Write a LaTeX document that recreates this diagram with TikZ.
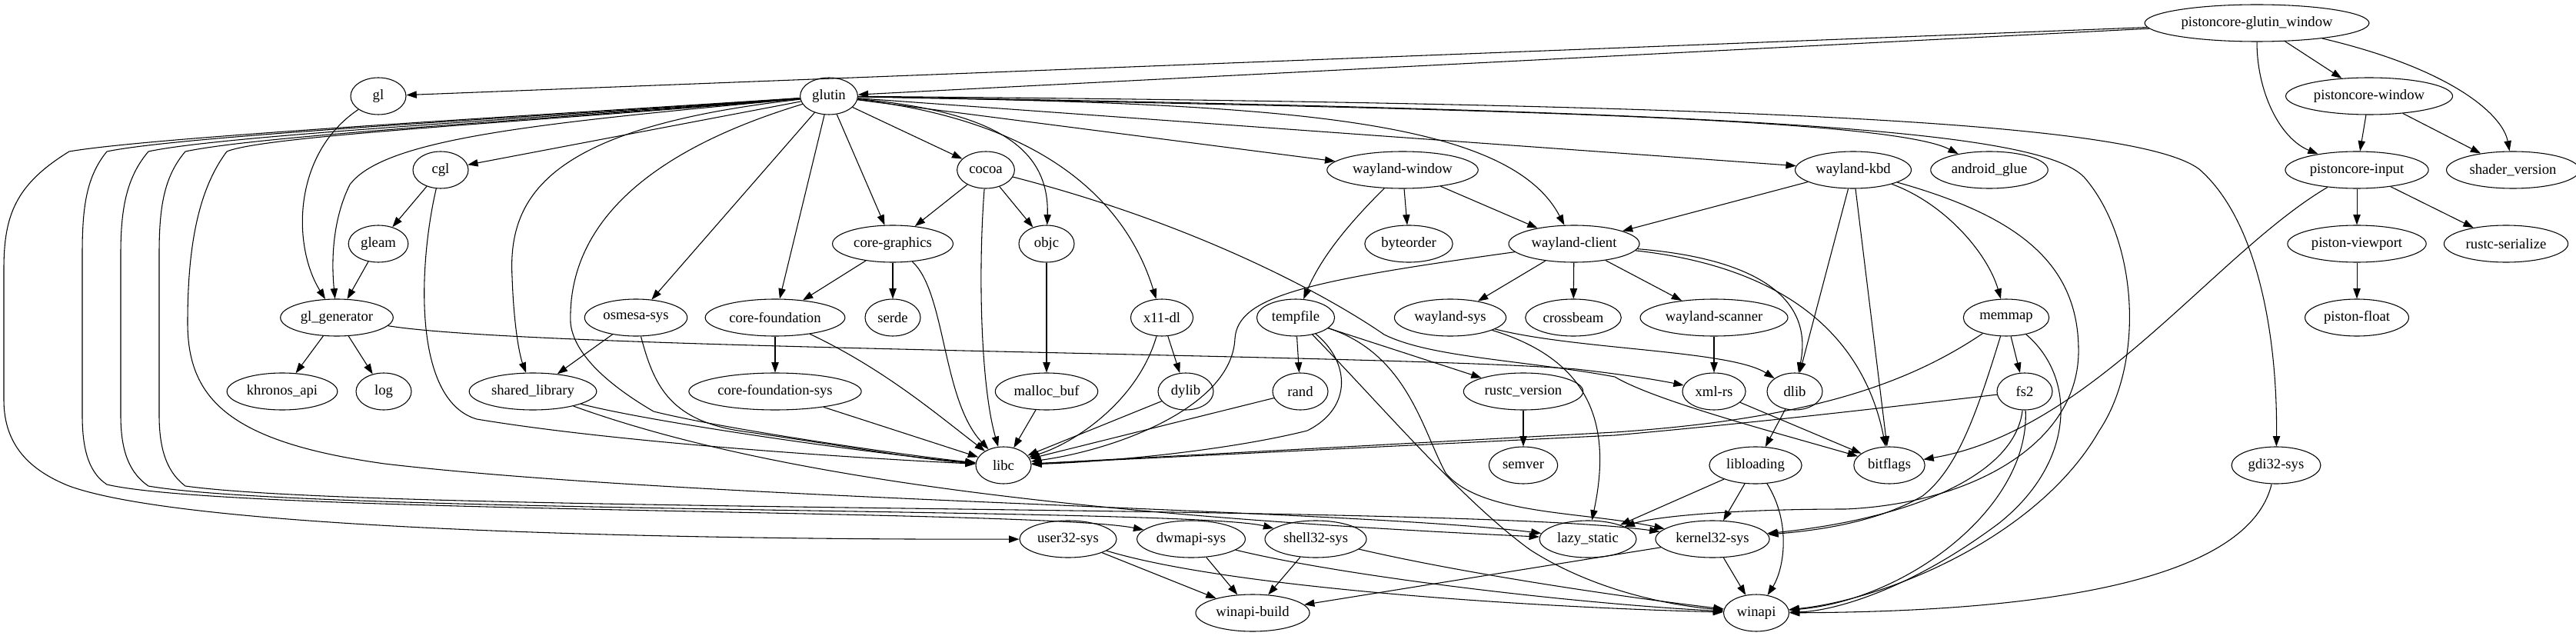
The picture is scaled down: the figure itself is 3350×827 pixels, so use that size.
\documentclass[tikz,border=0pt]{standalone}
\usepackage{fontspec}
\setmainfont{Liberation Serif}
\usepackage{tikz}
\usetikzlibrary{arrows.meta, shapes.geometric}

\begin{document}
\begin{tikzpicture}[
    x=0.75pt, y=-0.75pt,
    crate/.style={
        ellipse,
        draw,
        line width=0.8pt,
        minimum width=54pt,
        minimum height=36pt,
        inner xsep=3.5pt,
        inner ysep=0pt,
        font=\fontsize{14}{16}\selectfont
    },
    dep/.style={-{Triangle[length=10pt,width=7pt]}, line width=0.8pt}
]
\useasboundingbox (0,0) rectangle (3350,827);

\node[crate] (pgw) at (2935,30) {pistoncore-glutin\_window};
\node[crate] (gl) at (492,125) {gl};
\node[crate] (glutin) at (1078,125) {glutin};
\node[crate] (pcwindow) at (3081,125) {pistoncore-window};
\node[crate] (cgl) at (573,221) {cgl};
\node[crate] (cocoa) at (1282,221) {cocoa};
\node[crate] (wwindow) at (1824,221) {wayland-window};
\node[crate] (wkbd) at (2410,221) {wayland-kbd};
\node[crate] (androidglue) at (2587,221) {android\_glue};
\node[crate] (pcinput) at (3065,221) {pistoncore-input};
\node[crate] (shaderversion) at (3268,221) {shader\_version};
\node[crate] (gleam) at (492,317) {gleam};
\node[crate] (cgraphics) at (1161,317) {core-graphics};
\node[crate] (objc) at (1361,317) {objc};
\node[crate] (byteorder) at (1832,317) {byteorder};
\node[crate] (wclient) at (2047,317) {wayland-client};
\node[crate] (viewport) at (3065,317) {piston-viewport};
\node[crate] (rserialize) at (3259,317) {rustc-serialize};
\node[crate] (glgen) at (438,413) {gl\_generator};
\node[crate] (osmesa) at (827,413) {osmesa-sys};
\node[crate] (cfound) at (1008,413) {core-foundation};
\node[crate] (serde) at (1161,413) {serde};
\node[crate] (x11dl) at (1511,413) {x11-dl};
\node[crate] (tempfile) at (1685,413) {tempfile};
\node[crate] (wsys) at (1886,413) {wayland-sys};
\node[crate] (crossbeam) at (2046,413) {crossbeam};
\node[crate] (wscanner) at (2229,413) {wayland-scanner};
\node[crate] (memmap) at (2609,413) {memmap};
\node[crate] (pfloat) at (3065,413) {piston-float};
\node[crate] (khronos) at (367,509) {khronos\_api};
\node[crate] (log) at (499,509) {log};
\node[crate] (shlib) at (693,509) {shared\_library};
\node[crate] (cfsys) at (1008,509) {core-foundation-sys};
\node[crate] (mallocbuf) at (1361,509) {malloc\_buf};
\node[crate] (dylib) at (1542,509) {dylib};
\node[crate] (rand) at (1691,509) {rand};
\node[crate] (rversion) at (1981,509) {rustc\_version};
\node[crate] (xmlrs) at (2229,509) {xml-rs};
\node[crate] (dlib) at (2334,509) {dlib};
\node[crate] (fstwo) at (2633,509) {fs2};
\node[crate] (libc) at (1305,605) {libc};
\node[crate] (semver) at (1981,605) {semver};
\node[crate] (libloading) at (2283,605) {libloading};
\node[crate] (bitflags) at (2457,605) {bitflags};
\node[crate] (gdi) at (2960,605) {gdi32-sys};
\node[crate] (user) at (1389,701) {user32-sys};
\node[crate] (dwmapi) at (1549,701) {dwmapi-sys};
\node[crate] (shell) at (1711,701) {shell32-sys};
\node[crate] (lazystatic) at (2065,701) {lazy\_static};
\node[crate] (kernel) at (2227,701) {kernel32-sys};
\node[crate] (wbuild) at (1629,797) {winapi-build};
\node[crate] (winapi) at (2284,797) {winapi};

\draw[dep] (pgw) -- (gl);
\draw[dep] (pgw) -- (glutin);
\draw[dep] (pgw) -- (pcwindow);
\draw[dep] (pgw) .. controls (2935,120) and (2965,180) .. (pcinput);
\draw[dep] (pgw) .. controls (3190,90) and (3255,150) .. (shaderversion);
\draw[dep] (pcwindow) -- (pcinput);
\draw[dep] (pcwindow) -- (shaderversion);
\draw[dep] (pcinput) -- (viewport);
\draw[dep] (pcinput) -- (rserialize);
\draw[dep] (pcinput) .. controls (2880,330) and (2720,560) .. (bitflags);
\draw[dep] (viewport) -- (pfloat);

\draw[dep] (gl) .. controls (380,200) and (380,320) .. (glgen);
\draw[dep] (glutin) .. controls (700,160) and (500,180) .. (455,240) .. controls (435,280) and (430,330) .. (glgen);
\draw[dep] (glutin) -- (cgl);
\draw[dep] (cgl) -- (gleam);
\draw[dep] (gleam) -- (glgen);
\draw[dep] (cgl) .. controls (545,340) and (535,520) .. (620,545) .. controls (800,575) and (1100,595) .. (libc);
\draw[dep] (glgen) -- (khronos);
\draw[dep] (glgen) -- (log);
\draw[dep] (glgen) .. controls (700,455) and (1800,460) .. (2050,480) .. controls (2120,488) and (2160,495) .. (xmlrs);

\draw[dep] (glutin) .. controls (700,150) and (200,178) .. (90,197) .. controls (20,240) and (5,280) .. (5,350) -- (5,520) .. controls (5,580) and (40,612) .. (90,632) .. controls (250,690) and (900,702) .. (user);
\draw[dep] (glutin) .. controls (700,152) and (240,176) .. (139,197) .. controls (112,230) and (107,270) .. (107,330) -- (107,540) .. controls (107,590) and (118,616) .. (139,630) .. controls (300,668) and (1350,662) .. (dwmapi);
\draw[dep] (glutin) .. controls (700,154) and (290,176) .. (193,197) .. controls (165,230) and (157,270) .. (157,330) -- (157,540) .. controls (157,590) and (170,616) .. (193,632) .. controls (400,668) and (1550,660) .. (shell);
\draw[dep] (glutin) .. controls (700,156) and (340,176) .. (241,197) .. controls (213,230) and (207,270) .. (207,330) -- (207,540) .. controls (207,590) and (220,616) .. (241,632) .. controls (500,668) and (1900,655) .. (kernel);
\draw[dep] (glutin) .. controls (700,158) and (345,176) .. (295,197) .. controls (255,250) and (244,330) .. (244,420) .. controls (244,520) and (300,575) .. (500,603) .. controls (900,650) and (1750,662) .. (lazystatic);
\draw[dep] (glutin) .. controls (720,165) and (660,250) .. (666,360) .. controls (668,420) and (675,460) .. (shlib);
\draw[dep] (glutin) .. controls (830,200) and (738,300) .. (742,420) .. controls (746,460) and (790,500) .. (850,535) .. controls (950,560) and (1200,595) .. (libc);
\draw[dep] (glutin) -- (osmesa);
\draw[dep] (glutin) -- (cfound);
\draw[dep] (glutin) -- (cgraphics);
\draw[dep] (glutin) -- (cocoa);
\draw[dep] (glutin) .. controls (1290,145) and (1365,190) .. (objc);
\draw[dep] (glutin) .. controls (1380,160) and (1470,280) .. (x11dl);
\draw[dep] (glutin) -- (wwindow);
\draw[dep] (glutin) .. controls (1650,135) and (1960,150) .. (wclient);
\draw[dep] (glutin) -- (wkbd);
\draw[dep] (glutin) .. controls (1800,140) and (2450,150) .. (androidglue);
\draw[dep] (glutin) .. controls (2300,145) and (2650,170) .. (2710,230) .. controls (2780,310) and (2790,470) .. (2730,560) .. controls (2650,700) and (2450,780) .. (winapi);
\draw[dep] (glutin) .. controls (2300,135) and (2780,160) .. (2860,220) .. controls (2940,290) and (2962,450) .. (gdi);

\draw[dep] (osmesa) -- (shlib);
\draw[dep] (osmesa) .. controls (850,500) and (870,545) .. (960,560) .. controls (1100,580) and (1200,598) .. (libc);
\draw[dep] (shlib) .. controls (850,550) and (1150,592) .. (libc);
\draw[dep] (shlib) .. controls (1000,620) and (1400,670) .. (lazystatic);
\draw[dep] (cfound) -- (cfsys);
\draw[dep] (cfound) .. controls (1150,480) and (1220,540) .. (libc);
\draw[dep] (cfsys) -- (libc);
\draw[dep] (cgraphics) -- (cfound);
\draw[dep] (cgraphics) -- (serde);
\draw[dep] (cgraphics) .. controls (1230,380) and (1225,520) .. (libc);
\draw[dep] (cocoa) -- (cgraphics);
\draw[dep] (cocoa) -- (objc);
\draw[dep] (cocoa) .. controls (1272,350) and (1275,500) .. (libc);
\draw[dep] (cocoa) .. controls (1550,290) and (1720,380) .. (1800,435) .. controls (1860,465) and (1980,468) .. (2100,490) .. controls (2150,520) and (2300,560) .. (bitflags);
\draw[dep] (objc) -- (mallocbuf);
\draw[dep] (mallocbuf) -- (libc);
\draw[dep] (x11dl) -- (dylib);
\draw[dep] (x11dl) .. controls (1480,520) and (1400,575) .. (libc);
\draw[dep] (dylib) -- (libc);
\draw[dep] (rand) -- (libc);

\draw[dep] (wwindow) -- (byteorder);
\draw[dep] (wwindow) -- (wclient);
\draw[dep] (wwindow) .. controls (1760,285) and (1720,330) .. (tempfile);
\draw[dep] (wclient) -- (wsys);
\draw[dep] (wclient) -- (crossbeam);
\draw[dep] (wclient) -- (wscanner);
\draw[dep] (wclient) .. controls (2270,335) and (2360,380) .. (dlib);
\draw[dep] (wclient) .. controls (2300,345) and (2420,420) .. (bitflags);
\draw[dep] (wclient) .. controls (1700,365) and (1610,385) .. (1606,440) .. controls (1602,530) and (1450,585) .. (libc);
\draw[dep] (wkbd) -- (wclient);
\draw[dep] (wkbd) -- (dlib);
\draw[dep] (wkbd) -- (bitflags);
\draw[dep] (wkbd) .. controls (2530,265) and (2585,330) .. (memmap);
\draw[dep] (wkbd) .. controls (2620,280) and (2705,340) .. (2703,460) .. controls (2700,580) and (2560,655) .. (2400,662) .. controls (2250,662) and (2150,672) .. (lazystatic);
\draw[dep] (wsys) .. controls (2050,455) and (2250,455) .. (dlib);
\draw[dep] (wsys) .. controls (2075,470) and (2095,560) .. (lazystatic);
\draw[dep] (wscanner) -- (xmlrs);
\draw[dep] (xmlrs) -- (bitflags);
\draw[dep] (dlib) -- (libloading);

\draw[dep] (tempfile) -- (rand);
\draw[dep] (tempfile) .. controls (1755,470) and (1760,530) .. (1700,560) .. controls (1600,585) and (1450,600) .. (libc);
\draw[dep] (tempfile) -- (rversion);
\draw[dep] (tempfile) .. controls (1790,520) and (1900,650) .. (1990,715) .. controls (2060,760) and (2150,785) .. (winapi);
\draw[dep] (tempfile) .. controls (1830,460) and (1850,560) .. (1880,615) .. controls (1925,670) and (2060,665) .. (kernel);
\draw[dep] (rversion) -- (semver);
\draw[dep] (libloading) -- (lazystatic);
\draw[dep] (libloading) -- (kernel);
\draw[dep] (libloading) .. controls (2330,680) and (2320,740) .. (winapi);

\draw[dep] (memmap) -- (fstwo);
\draw[dep] (memmap) .. controls (2480,500) and (2350,545) .. (2100,562) -- (libc);
\draw[dep] (memmap) .. controls (2570,540) and (2545,610) .. (2500,645) .. controls (2440,680) and (2360,690) .. (kernel);
\draw[dep] (memmap) .. controls (2700,490) and (2700,600) .. (2600,680) .. controls (2480,770) and (2380,795) .. (winapi);
\draw[dep] (fstwo) .. controls (2450,530) and (2300,548) .. (2100,566) -- (libc);
\draw[dep] (fstwo) .. controls (2620,620) and (2480,675) .. (kernel);
\draw[dep] (fstwo) .. controls (2640,660) and (2480,780) .. (winapi);

\draw[dep] (kernel) -- (winapi);
\draw[dep] (kernel) -- (wbuild);
\draw[dep] (user) -- (wbuild);
\draw[dep] (dwmapi) -- (wbuild);
\draw[dep] (shell) -- (wbuild);
\draw[dep] (user) .. controls (1600,765) and (2000,790) .. (winapi);
\draw[dep] (dwmapi) .. controls (1750,750) and (2050,785) .. (winapi);
\draw[dep] (shell) .. controls (1900,745) and (2100,775) .. (winapi);
\draw[dep] (gdi) .. controls (2930,730) and (2750,795) .. (winapi);

\end{tikzpicture}
\end{document}
